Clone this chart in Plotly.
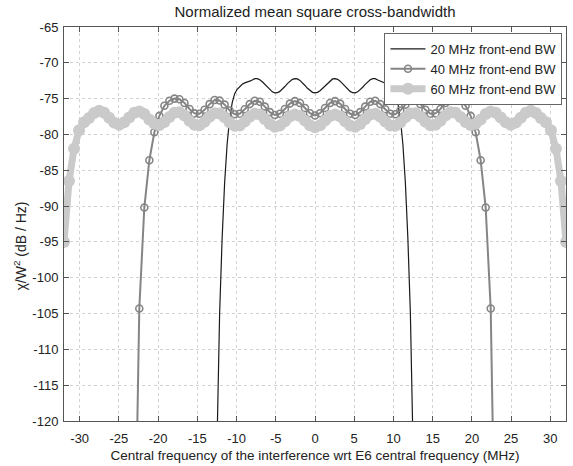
import plotly.graph_objects as go

# Frequency grid (MHz) for the 40 and 60 MHz front-end curves
freq = [-32.00, -31.36, -30.72, -30.08, -29.44, -28.80, -28.16, -27.52, -26.88, -26.24,
        -25.60, -24.96, -24.32, -23.68, -23.04, -22.40, -21.76, -21.12, -20.48, -19.84,
        -19.20, -18.56, -17.92, -17.28, -16.64, -16.00, -15.36, -14.72, -14.08, -13.44,
        -12.80, -12.16, -11.52, -10.88, -10.24, -9.60, -8.96, -8.32, -7.68, -7.04,
        -6.40, -5.76, -5.12, -4.48, -3.84, -3.20, -2.56, -1.92, -1.28, -0.64,
        0.00,
        0.64, 1.28, 1.92, 2.56, 3.20, 3.84, 4.48, 5.12, 5.76, 6.40,
        7.04, 7.68, 8.32, 8.96, 9.60, 10.24, 10.88, 11.52, 12.16, 12.80,
        13.44, 14.08, 14.72, 15.36, 16.00, 16.64, 17.28, 17.92, 18.56, 19.20,
        19.84, 20.48, 21.12, 21.76, 22.40, 23.04, 23.68, 24.32, 24.96, 25.60,
        26.24, 26.88, 27.52, 28.16, 28.80, 29.44, 30.08, 30.72, 31.36, 32.00]

bw60_half = [-95.0, -86.5, -82.0, -79.4, -78.3, -77.7, -77.0, -76.7, -76.97, -77.67,
             -78.35, -78.63, -78.3, -77.62, -76.98, -76.8, -77.16, -77.9, -78.5, -78.67,
             -78.26, -77.56, -76.97, -76.9, -77.36, -78.1, -78.66, -78.72, -78.22, -77.53,
             -77.04, -77.08, -77.6, -78.33, -78.8, -78.74, -78.19, -77.52, -77.10, -77.23,
             -77.85, -78.54, -78.91, -78.76, -78.15, -77.48, -77.2, -77.43, -78.07, -78.72]
bw60 = bw60_half + [-79.0] + bw60_half[::-1]

bw40_half = [None, None, None, None, None, None, None, None, None, None,
             None, None, None, None, -145.0, -104.3, -90.2, -83.6, -79.7, -77.4,
             -76.0, -75.3, -75.0, -75.09, -75.6, -76.44, -77.06, -77.12, -76.56, -75.77,
             -75.2, -75.26, -75.84, -76.66, -77.18, -77.1, -76.49, -75.76, -75.3, -75.43,
             -76.11, -76.88, -77.29, -77.12, -76.44, -75.69, -75.35, -75.6, -76.31, -77.04]
bw40 = bw40_half + [-77.35] + bw40_half[::-1]

# Finer grid for the 20 MHz curve
freq20_half = [-12.80, -12.48, -12.16, -11.84, -11.52, -11.20, -10.88, -10.56, -10.24, -9.92,
               -9.60, -9.28, -8.96, -8.64, -8.32, -8.00, -7.68, -7.36, -7.04, -6.72,
               -6.40, -6.08, -5.76, -5.44, -5.12, -4.80, -4.48, -4.16, -3.84, -3.52,
               -3.20, -2.88, -2.56, -2.24, -1.92, -1.60, -1.28, -0.96, -0.64, -0.32]
freq20 = freq20_half + [0.0] + [-v for v in freq20_half[::-1]]
bw20_half = [-140.0, -119.5, -105.0, -94.5, -86.7, -81.3, -77.8, -75.6, -74.3, -73.7,
             -73.3, -73.0, -72.8, -72.62, -72.55, -72.39, -72.22, -72.21, -72.36, -72.64,
             -73.01, -73.41, -73.78, -74.05, -74.19, -74.17, -73.99, -73.69, -73.31, -72.91,
             -72.56, -72.31, -72.2, -72.25, -72.45, -72.77, -73.16, -73.56, -73.89, -74.12]
bw20 = bw20_half + [-74.2] + bw20_half[::-1]

x_ticks = [-30, -25, -20, -15, -10, -5, 0, 5, 10, 15, 20, 25, 30]
x_ticktext = ["-30", "-25", "-20", "-15", "-10", "-5", "0", "5", "10", "15", "20", "25", "30"]
y_ticks = [-65, -70, -75, -80, -85, -90, -95, -100, -105, -110, -115, -120]
y_ticktext = ["-65", "-70", "-75", "-80", "-85", "-90", "-95", "-100", "-105", "-110", "-115", "-120"]

FONT = "Liberation Sans, Arial, Helvetica, sans-serif"
TXT = "#222222"

fig = go.Figure()
fig.add_trace(go.Scatter(
    x=freq20, y=bw20, mode="lines", name="20 MHz front-end BW",
    line=dict(color="#1a1a1a", width=1.2)))
fig.add_trace(go.Scatter(
    x=freq, y=bw40, mode="lines+markers", name="40 MHz front-end BW",
    line=dict(color="#858585", width=2),
    marker=dict(symbol="circle-open", size=7, color="#858585", line=dict(width=1.6))))
fig.add_trace(go.Scatter(
    x=freq, y=bw60, mode="lines+markers", name="60 MHz front-end BW",
    line=dict(color="#cacaca", width=7),
    marker=dict(symbol="circle", size=12, color="#cacaca")))

axis_common = dict(
    showline=True, linecolor="#555555", linewidth=1, mirror="allticks",
    ticks="inside", ticklen=5, tickcolor="#555555",
    showgrid=True, gridcolor="#d2d2d2", griddash="dot", gridwidth=1,
    zeroline=False, tickfont=dict(size=13, color=TXT, family=FONT),
)

fig.update_xaxes(range=[-32, 32], tickvals=x_ticks, ticktext=x_ticktext, ticklabelstandoff=5,
                 title=dict(text="Central frequency of the interference wrt E6 central frequency (MHz)",
                            font=dict(size=13.5, color=TXT, family=FONT), standoff=5),
                 **axis_common)
fig.update_yaxes(range=[-120, -65], tickvals=y_ticks, ticktext=y_ticktext, ticklabelstandoff=2,
                 **axis_common)

fig.add_annotation(
    text="χ/W<sup>2</sup> (dB / Hz)", textangle=-90, showarrow=False,
    xref="paper", yref="paper", x=-0.088, y=0.445, xanchor="center", yanchor="middle",
    font=dict(size=14, color=TXT, family=FONT))

fig.update_layout(
    width=573, height=466,
    margin=dict(l=64, r=6, t=27, b=43),
    paper_bgcolor="white", plot_bgcolor="white",
    font=dict(family=FONT, size=12, color=TXT),
    title=dict(text="Normalized mean square cross-bandwidth", xref="paper", x=0.5, xanchor="center",
               y=0.985, yanchor="top", font=dict(size=15, color=TXT, family=FONT)),
    showlegend=True,
    legend=dict(x=0.993, xanchor="right", y=0.985, yanchor="top",
                bgcolor="white", bordercolor="#666666", borderwidth=1,
                font=dict(size=13, color=TXT, family=FONT),
                tracegroupgap=0, itemwidth=35),
)

fig.write_html("out.html", config={"displayModeBar": False},
               post_script="document.body.style.margin='0';")
